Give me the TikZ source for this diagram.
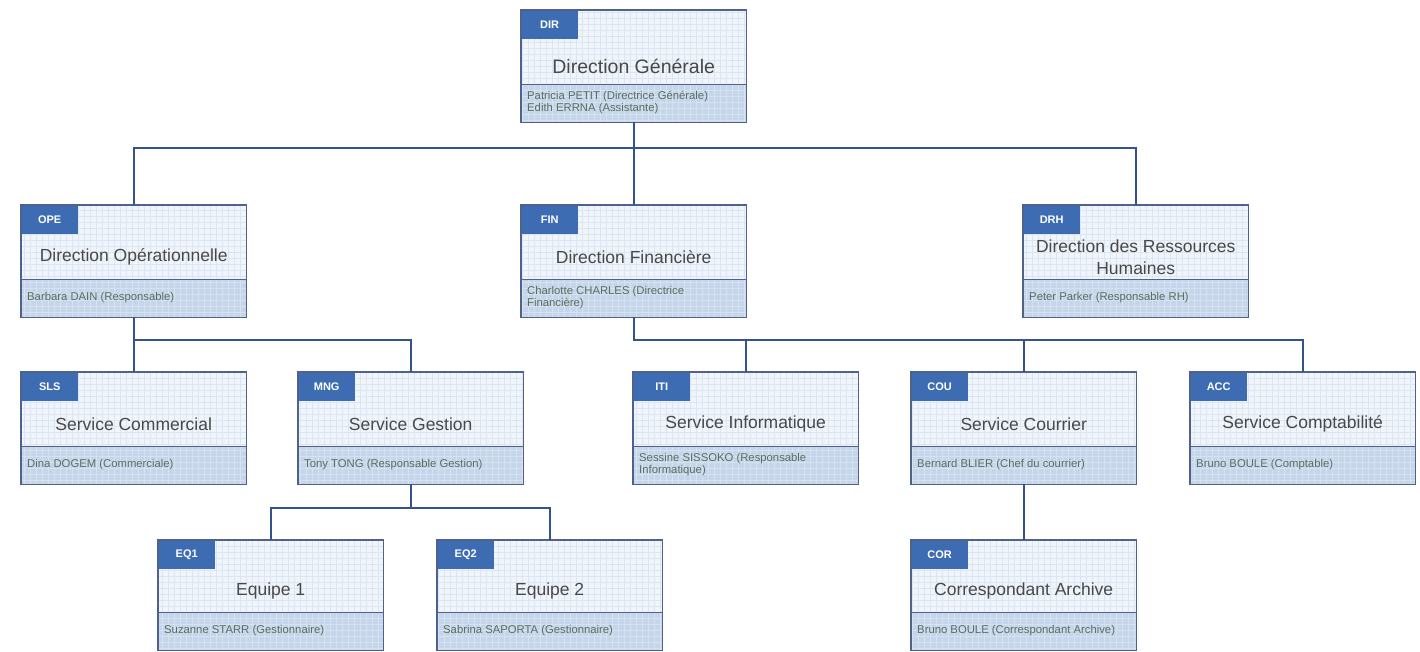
\documentclass[tikz,border=0pt]{standalone}
\usepackage{fontspec}
\setmainfont{Liberation Sans}
\usetikzlibrary{calc}
\definecolor{framec}{RGB}{78,98,140}
\definecolor{connc}{RGB}{52,82,142}
\definecolor{tagc}{RGB}{62,108,178}
\definecolor{headc}{RGB}{240,245,252}
\definecolor{bandc}{RGB}{198,214,234}
\definecolor{gridc}{RGB}{220,229,242}
\definecolor{titlec}{RGB}{72,72,72}
\definecolor{peoplec}{RGB}{88,110,96}
\tikzset{
  orgframe/.style={rectangle, fill=headc, draw=none, inner sep=0pt},
  frame/.style={draw=framec, line width=1.4pt},
  divider/.style={draw=framec, line width=1.2pt},
  bandfill/.style={fill=bandc},
  gridline/.style={draw=gridc, line width=0.35pt},
  bandgrid/.style={draw=white, draw opacity=0.3, line width=0.35pt},
  tagbox/.style={rectangle, fill=tagc, text=white, inner sep=0pt,
    minimum width=57pt, minimum height=29pt,
    font=\fontsize{11}{13}\selectfont\bfseries},
  titletext/.style={text=titlec, align=center, inner sep=0pt,
    font=\fontsize{17.5}{22}\selectfont},
  peopletext/.style={text=peoplec, align=left, inner sep=0pt,
    font=\fontsize{11.3}{12}\selectfont},
  conn/.style={draw=connc, line width=1.8pt}
}
\newcommand\orgbox[8][]{%
  \node[orgframe, minimum width=225pt, minimum height=#5pt, anchor=north west] (#2) at (#3,#4) {};
  \begin{scope}
    \clip (#2.south west) rectangle (#2.north east);
    \draw[gridline, step=6pt] (#2.south west) grid (#2.north east);
    \fill[bandfill] ([yshift=38pt]#2.south west) rectangle (#2.south east);
    \draw[bandgrid, step=6pt] (#2.south west) grid ([yshift=38pt]#2.south east);
  \end{scope}
  \draw[divider] ([yshift=38pt]#2.south west) -- ([yshift=38pt]#2.south east);
  \node[tagbox, anchor=north west] (#2-tag) at (#2.north west) {#6};
  \draw[frame] (#2.south west) rectangle (#2.north east);
  \coordinate (#2-mid) at ($(#2-tag.south)!0.5!([yshift=38pt]#2.south)$);
  \node[titletext, #1] (#2-title) at (#2.center |- #2-mid) {#7};
  \node[peopletext, anchor=west] (#2-people) at ([xshift=6pt,yshift=20pt]#2.south west) {#8};
}
\begin{document}
\begin{tikzpicture}[x=1pt,y=-1pt]
\useasboundingbox (0,0) rectangle (1420,651);
\fill[white] (0,0) rectangle (1420,651);

\coordinate (dirbus) at (634,148);
\coordinate (opebus) at (133,340);
\coordinate (finbus) at (634,340);
\coordinate (mngbus) at (410,508);

\orgbox[font=\fontsize{19.5}{23}\selectfont, yshift=-5pt]{dir}{521}{10}{112}{DIR}{Direction Générale}{Patricia PETIT (Directrice Générale)\\Edith ERRNA (Assistante)}
\orgbox{ope}{21}{205}{112}{OPE}{Direction Opérationnelle}{Barbara DAIN (Responsable)}
\orgbox{fin}{521}{205}{112}{FIN}{Direction Financière}{Charlotte CHARLES (Directrice\\Financière)}
\orgbox{drh}{1023}{205}{112}{DRH}{Direction des Ressources\\Humaines}{Peter Parker (Responsable RH)}
\orgbox{sls}{21}{372}{112}{SLS}{Service Commercial}{Dina DOGEM (Commerciale)}
\orgbox{mng}{298}{372}{112}{MNG}{Service Gestion}{Tony TONG (Responsable Gestion)}
\orgbox{iti}{633}{372}{112}{ITI}{Service Informatique}{Sessine SISSOKO (Responsable\\Informatique)}
\orgbox{cou}{911}{372}{112}{COU}{Service Courrier}{Bernard BLIER (Chef du courrier)}
\orgbox{acc}{1190}{372}{112}{ACC}{Service Comptabilité}{Bruno BOULE (Comptable)}
\orgbox{eqa}{158}{540}{110}{EQ1}{Equipe 1}{Suzanne STARR (Gestionnaire)}
\orgbox{eqb}{437}{540}{110}{EQ2}{Equipe 2}{Sabrina SAPORTA (Gestionnaire)}
\orgbox{cor}{911}{540}{110}{COR}{Correspondant Archive}{Bruno BOULE (Correspondant Archive)}

\draw[conn] (dir.south) -- (fin.north);
\draw[conn] (dir.south |- dirbus) -| (ope.north);
\draw[conn] (dir.south |- dirbus) -| (drh.north);

\draw[conn] (ope.south) -- (sls.north);
\draw[conn] (ope.south |- opebus) -| (mng.north);

\draw[conn] (fin.south) -- (fin.south |- finbus) -| (iti.north);
\draw[conn] (fin.south |- finbus) -| (cou.north);
\draw[conn] (fin.south |- finbus) -| (acc.north);

\draw[conn] (mng.south) -- (mng.south |- mngbus) -| (eqa.north);
\draw[conn] (mng.south |- mngbus) -| (eqb.north);

\draw[conn] (cou.south) -- (cor.north);
\end{tikzpicture}
\end{document}
